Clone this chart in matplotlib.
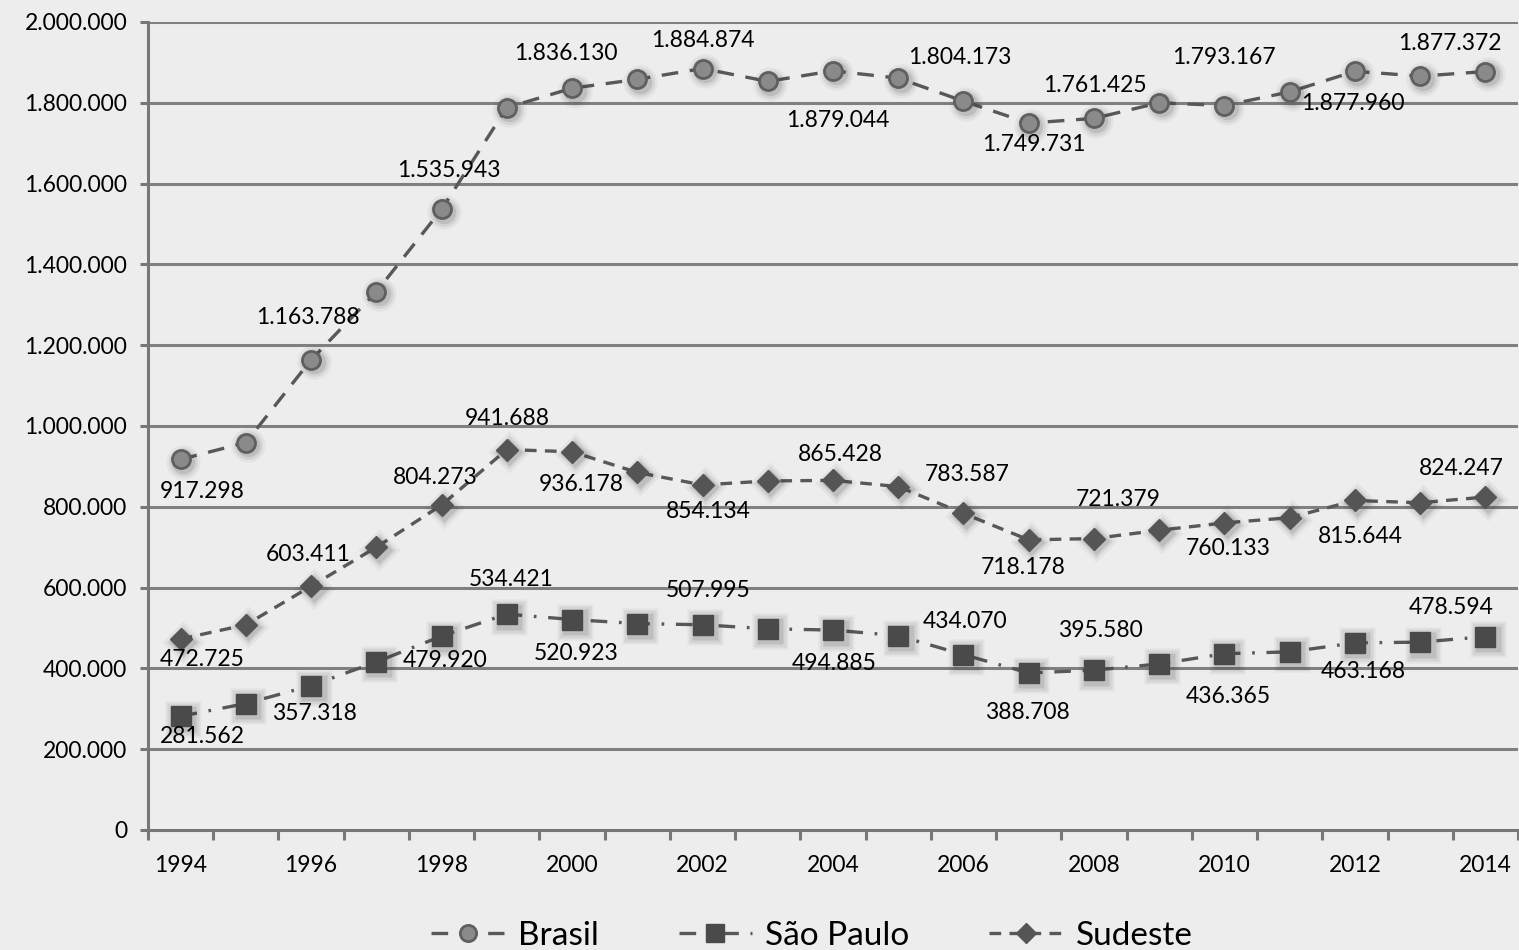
import matplotlib
matplotlib.use("Agg")
import matplotlib.pyplot as plt
from matplotlib.lines import Line2D
import matplotlib.transforms as mtransforms
import numpy as np

years = list(range(1994, 2015))
year_labels = [str(y) for y in years]

brasil = [917298, 959000, 1163788, 1332000, 1535943, 1788000, 1836130, 1858000,
          1884874, 1853000, 1879044, 1861000, 1804173, 1749731, 1761425, 1800000,
          1793167, 1827000, 1877960, 1866000, 1877372]
sao_paulo = [281562, 313000, 357318, 416000, 479920, 534421, 520923, 511000,
             507995, 498000, 494885, 481000, 434070, 388708, 395580, 411000,
             436365, 441000, 463168, 465000, 478594]
sudeste = [472725, 508000, 603411, 700000, 804273, 941688, 936178, 885000,
           854134, 864000, 865428, 850000, 783587, 718178, 721379, 742000,
           760133, 773000, 815644, 810000, 824247]

series_names = ["Brasil", "São Paulo", "Sudeste"]
y_ticks = list(range(0, 2000001, 200000))

# data label placements: index -> (dx px, dy px) ; positive dy = below
lab_brasil = {0: (22, 32), 2: (-3, -42), 4: (7, -39), 6: (-6, -35), 8: (0, -28),
              10: (5, 50), 12: (-4, -44), 13: (5, 21), 14: (1, -33), 16: (-1, -48),
              18: (-2, 32), 20: (-36, -28)}
lab_sudeste = {0: (22, 20), 2: (-3, -32), 4: (-6, -28), 5: (0, -31), 6: (9, 33),
               8: (6, 27), 10: (7, -26), 12: (4, -39), 13: (-6, 28), 14: (24, -39),
               16: (4, 26), 18: (5, 36), 20: (-24, -29)}
lab_sp = {0: (22, 20), 2: (3, 28), 4: (4, 24), 5: (4, -35), 6: (4, 34), 8: (6, -34),
          10: (1, 33), 12: (2, -33), 13: (-1, 40), 14: (6, -40), 16: (4, 43),
          18: (8, 29), 20: (-34, -29)}

def fmt(v):
    return f"{v:,}".replace(",", ".")

FONT = "Lato"
FS = 16.5
W, H, DPI = 1519, 950, 100
bg = "#ededed"
fig = plt.figure(figsize=(W / DPI, H / DPI), dpi=DPI, facecolor=bg)
ax = fig.add_axes([148 / W, 1 - 830 / H, (1518 - 148) / W, (830 - 22) / H])
ax.set_facecolor(bg)

x = np.arange(len(years))
ax.set_xlim(-0.5, len(years) - 0.5)
ax.set_ylim(0, 2000000)

grid_c = "#808080"
for yt in y_ticks[1:]:
    ax.axhline(yt, color=grid_c, lw=2.2, zorder=1)

styles = [
    dict(data=brasil, ls=(0, (5, 3.5)), marker="o", ms=13, mfc="#8a8a8a", mec="#5f5f5f", mew=2.0, labs=lab_brasil),
    dict(data=sao_paulo, ls=(0, (5, 3.5, 0.8, 3.5)), marker="s", ms=14, mfc="#4a4a4a", mec="#4a4a4a", mew=1.0, labs=lab_sp),
    dict(data=sudeste, ls=(0, (3.5, 2.5)), marker="D", ms=11, mfc="#555555", mec="#555555", mew=1.0, labs=lab_sudeste),
]
line_c = "#585858"
shadow_tr = mtransforms.offset_copy(ax.transData, fig=fig, x=2.5, y=-2.5, units="dots")
handles = []
for name, st in zip(series_names, styles):
    d = st["data"]
    ax.plot(x, d, ls=st["ls"], color=line_c, lw=2.4, zorder=3)
    # soft shadow
    for k, a in [(1.9, 0.05), (1.6, 0.08), (1.3, 0.13)]:
        ax.plot(x, d, ls="none", marker=st["marker"], ms=st["ms"] * k,
                mfc="#303030", mec="none", alpha=a, zorder=4, transform=shadow_tr)
    ax.plot(x, d, ls="none", marker=st["marker"], ms=st["ms"], mfc=st["mfc"],
            mec=st["mec"], mew=st["mew"], zorder=5)
    for i, (dx, dy) in st["labs"].items():
        ax.annotate(fmt(d[i]), (x[i], d[i]), xytext=(dx * 0.72, -dy * 0.72),
                    textcoords="offset points", ha="center", va="center",
                    fontsize=FS, family=FONT, color="black", zorder=6,
                    annotation_clip=False)
    handles.append(Line2D([0], [0], ls=st["ls"], color=line_c, lw=2.4,
                          marker=st["marker"], ms=st["ms"] * 0.9, mfc=st["mfc"],
                          mec=st["mec"], mew=st["mew"]))

# axes styling
spine_c = "#777777"
for s in ["top", "right"]:
    ax.spines[s].set_visible(False)
for s in ["left", "bottom"]:
    ax.spines[s].set_color(spine_c)
    ax.spines[s].set_linewidth(2.2)
    ax.spines[s].set_zorder(2)

ax.set_yticks(y_ticks)
ax.set_yticklabels([fmt(v) for v in y_ticks], fontsize=FS, family=FONT)
ax.tick_params(axis="y", length=6, width=2.2, color=spine_c, pad=9)

ax.set_xticks(np.arange(-0.5, len(years), 1.0))
ax.set_xticklabels([])
ax.tick_params(axis="x", which="major", length=7, width=2.2, color=spine_c, direction="out")
ax.set_xticks(x[::2], minor=True)
ax.set_xticklabels(year_labels[::2], minor=True, fontsize=FS, family=FONT)
ax.tick_params(axis="x", which="minor", length=0, pad=18)

leg = fig.legend(handles, series_names, loc="center", bbox_to_anchor=(812 / W, 1 - 936 / H),
                 ncol=3, frameon=False, prop={"family": FONT, "size": 24},
                 handlelength=2.2, columnspacing=2.4, handletextpad=0.4)

fig.savefig("out.png", dpi=DPI, facecolor=bg)
